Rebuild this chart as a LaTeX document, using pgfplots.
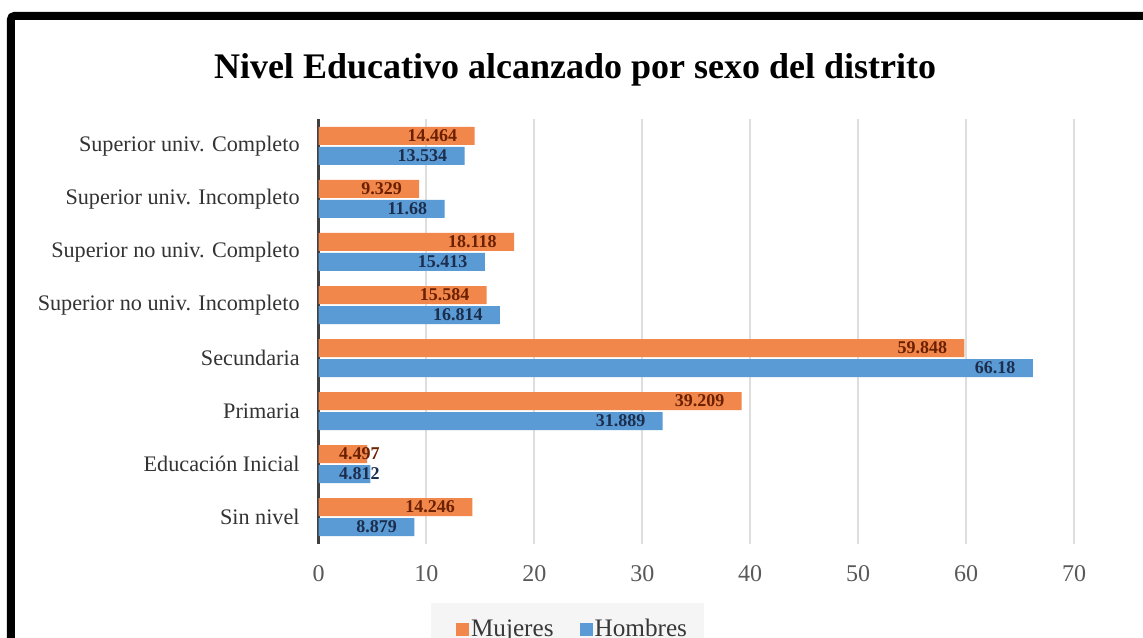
\documentclass[border=0pt]{standalone}
\usepackage{fontspec}
\setmainfont{Liberation Serif}
\usepackage{pgfplots}
\usepackage{pgfplotstable}
\pgfplotsset{compat=1.18}
\definecolor{orangebar}{HTML}{F2874C}
\definecolor{bluebar}{HTML}{5B9BD5}
\definecolor{orangelab}{HTML}{6B2000}
\definecolor{bluelab}{HTML}{1C2E4E}
\pgfplotstableread{
pos m h
0 14.246 8.879
1 4.497 4.812
2 39.209 31.889
3 59.848 66.18
4 15.584 16.814
5 18.118 15.413
6 9.329 11.68
7 14.464 13.534
}\datatable
\begin{document}
\begin{tikzpicture}
\path[use as bounding box, clip] (0pt,0pt) rectangle (571.5pt,318.5pt);
\fill[white] (0pt,0pt) rectangle (571.5pt,318.5pt);
\draw[line width=4pt, rounded corners=2pt] (5.4pt,-30pt) rectangle (620pt,310.6pt);
\node[font=\bfseries\fontsize{18}{20}\selectfont, anchor=base] at (287.5pt,279.35pt) {Nivel Educativo alcanzado por sexo del distrito};
\begin{axis}[
  at={(159.25pt,46.75pt)}, anchor=south west,
  scale only axis, width=377.75pt, height=212pt,
  xbar, bar width=9pt,
  xmin=0, xmax=70, ymin=-0.5, ymax=7.5,
  xtick={0,10,...,70}, ytick={0,...,7},
  yticklabels={Sin nivel, Educación Inicial, Primaria, Secundaria, Superior no univ. Incompleto, Superior no univ. Completo, Superior univ. Incompleto, Superior univ. Completo},
  axis lines*=left,
  x axis line style={draw=none},
  y axis line style={draw=black!75, line width=1.25pt},
  major tick length=0pt,
  xmajorgrids, grid style={draw=black!13, line width=1pt},
  /pgf/number format/assume math mode=true,
  xticklabel style={font=\fontsize{12}{14}\selectfont, text=black!65, anchor=north, inner sep=0pt, yshift=-10.75pt},
  yticklabel style={font=\fontsize{11.1}{13}\selectfont, text=black!80, anchor=east, inner sep=0pt, xshift=-9.25pt},
  legend style={at={(0.3296,0)}, anchor=north, yshift=-29.75pt, fill=black!4, draw=none,
    font=\fontsize{12.6}{14}\selectfont, text=black!78, legend columns=2,
    inner xsep=7.5pt, inner ysep=6pt,
    nodes={inner xsep=1pt},
    /tikz/every even column/.append style={column sep=7pt}},
  legend image code/.code={\path (0pt,0pt); \fill[#1] (5pt,-3.25pt) rectangle (11.5pt,3.25pt);},
  nodes near coords, point meta=explicit symbolic,
  visualization depends on={x \as \myx},
]
\addplot[fill=orangebar, draw=none, bar shift=5pt,
  every node near coord/.append style={anchor=east, inner sep=0pt, xshift={ifthenelse(\myx<6,30.75-5.3965*\myx,-8.5)*1pt}, font=\bfseries\fontsize{9}{10}\selectfont, text=orangelab}]
  table[x=m, y=pos, meta=m] {\datatable};
\addlegendentry{Mujeres}
\addplot[fill=bluebar, draw=none, bar shift=-5pt,
  every node near coord/.append style={anchor=east, inner sep=0pt, xshift={ifthenelse(\myx<6,30.75-5.3965*\myx,-8.5)*1pt}, font=\bfseries\fontsize{9}{10}\selectfont, text=bluelab}]
  table[x=h, y=pos, meta=h] {\datatable};
\addlegendentry{Hombres}
\end{axis}
\end{tikzpicture}
\end{document}
